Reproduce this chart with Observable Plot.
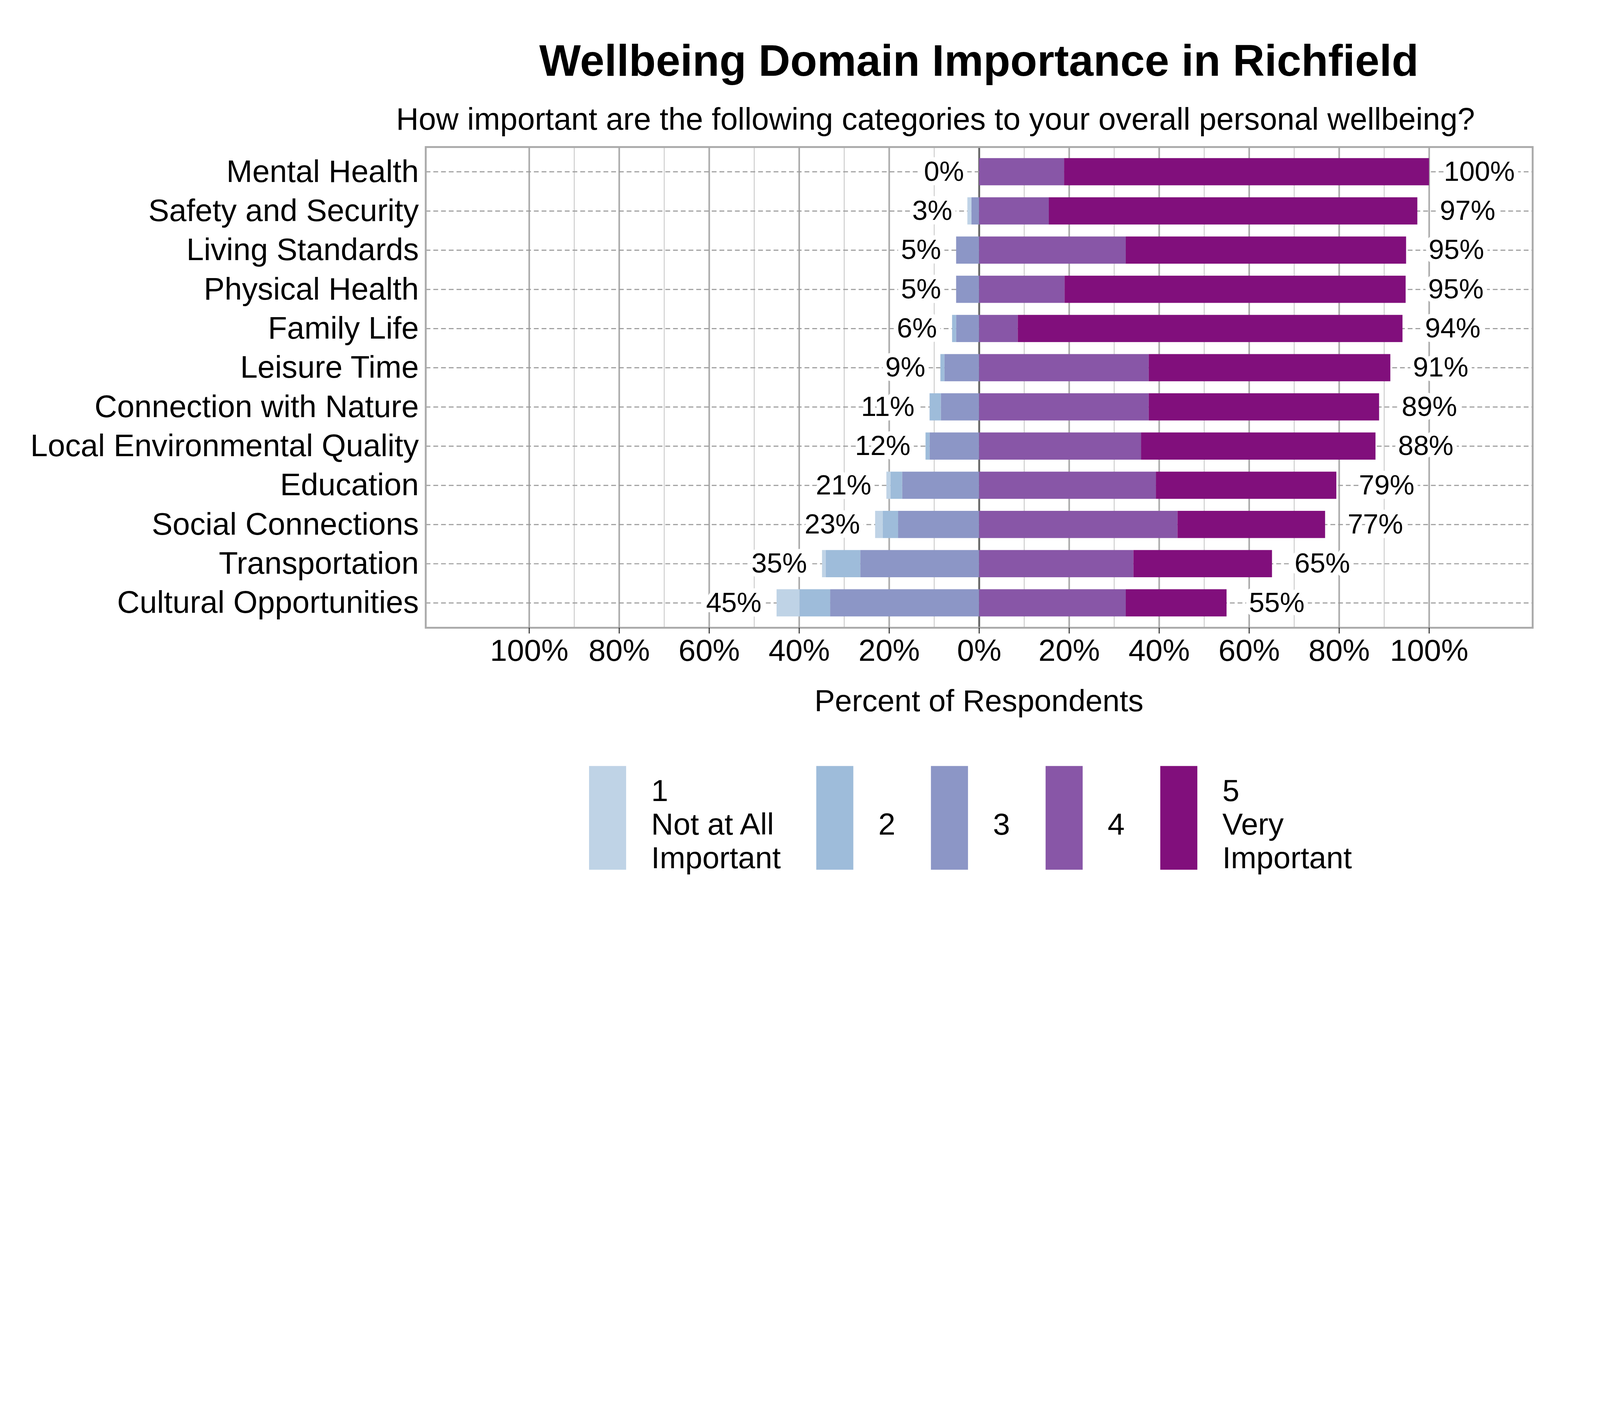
<!DOCTYPE html>
<html>
<head>
<meta charset="utf-8">
<script src="https://cdn.jsdelivr.net/npm/d3@7"></script>
<script src="https://cdn.jsdelivr.net/npm/@observablehq/plot@0.6"></script>
<style>
  html, body { margin: 0; padding: 0; background: white; overflow: hidden; }
  #page { position: absolute; left: 0; top: 0; width: 6000px; height: 3600px; background: white; font-family: 'Liberation Sans', Arial, sans-serif; color: black; overflow: hidden; transform-origin: 0 0; }
  .abs { position: absolute; white-space: nowrap; line-height: 1; }
  #title { left: 3671px; top: 145px; transform: translateX(-50%); font-size: 165px; font-weight: bold; }
  #subtitle { left: 3508px; top: 388px; transform: translateX(-50%); font-size: 117px; }
  #xtitle { left: 3671px; top: 2571px; transform: translateX(-50%); font-size: 115px; }
  #plotwrap { position: absolute; left: 0; top: 500px; }
  #legend { position: absolute; left: 2209px; top: 2873px; display: flex; align-items: center; }
  .item { display: flex; align-items: center; margin-right: 133px; }
  .item:last-child { margin-right: 0; }
  .sw { width: 139px; height: 389px; }
  .lt { margin-left: 94px; font-size: 115px; line-height: 126px; position: relative; top: 22px; white-space: nowrap; }
</style>
</head>
<body>
<div id="page">
  <div id="plotwrap"></div>
  <div id="title" class="abs">Wellbeing Domain Importance in Richfield</div>
  <div id="subtitle" class="abs">How important are the following categories to your overall personal wellbeing?</div>
  <div id="xtitle" class="abs">Percent of Respondents</div>
  <div id="legend"></div>
</div>
<script>
const categories = [
  "Mental Health", "Safety and Security", "Living Standards", "Physical Health",
  "Family Life", "Leisure Time", "Connection with Nature", "Local Environmental Quality",
  "Education", "Social Connections", "Transportation", "Cultural Opportunities"
];
// percent of respondents per rating level
const v1 = [0, 0.9, 0, 0, 0, 0, 0, 0, 0.9, 1.7, 0.8, 5.1];
const v2 = [0, 0, 0, 0, 0.9, 0.9, 2.5, 0.9, 2.6, 3.4, 7.7, 6.8];
const v3 = [0, 1.7, 5.1, 5.1, 5.1, 7.7, 8.5, 11.0, 17.1, 18.0, 26.4, 33.1];
const v4 = [18.9, 15.5, 32.6, 19.0, 8.6, 37.7, 37.7, 36.0, 39.3, 44.1, 34.3, 32.6];
const v5 = [81.1, 81.9, 62.3, 75.8, 85.5, 53.7, 51.2, 52.1, 40.1, 32.8, 30.8, 22.4];

const levels = ["1", "2", "3", "4", "5"];
const levelLabels = [["1", "Not at All", "Important"], ["2"], ["3"], ["4"], ["5", "Very", "Important"]];
const colors = ["#bfd3e6", "#9ebcda", "#8c96c6", "#8856a7", "#810f7c"];

const xTicks = [-100, -80, -60, -40, -20, 0, 20, 40, 60, 80, 100];
const gridMajor = [-100, -80, -60, -40, -20, 20, 40, 60, 80, 100];
const gridMinor = [-90, -70, -50, -30, -10, 10, 30, 50, 70, 90];

const series = {"1": v1, "2": v2, "3": v3, "4": v4, "5": v5};
const stackOrder = ["3", "2", "1", "4", "5"];
const rows = categories.flatMap((c, i) =>
  stackOrder.map(l => ({category: c, level: l, value: (+l <= 3 ? -1 : 1) * series[l][i]}))
).filter(d => d.value !== 0);

const leftTotals = categories.map((c, i) => ({category: c, total: v1[i] + v2[i] + v3[i]}));
const rightTotals = categories.map((c, i) => ({category: c, total: v4[i] + v5[i]}));

const chart = Plot.plot({
  width: 6000,
  height: 2060,
  marginTop: 51,
  marginBottom: 206,
  marginLeft: 1596,
  marginRight: 253,
  style: {fontFamily: "'Liberation Sans', Arial, sans-serif", fontSize: "117px", background: "transparent", maxWidth: "none", overflow: "visible"},
  x: {domain: [-123, 123]},
  y: {domain: categories, paddingInner: 0.307, paddingOuter: 0.253},
  color: {domain: levels, range: colors},
  marks: [
    Plot.ruleX(gridMinor, {stroke: "#c4c4c4", strokeWidth: 3}),
    Plot.ruleX(gridMajor, {stroke: "#ababab", strokeWidth: 6}),
    Plot.ruleX([0], {stroke: "#666666", strokeWidth: 7}),
    Plot.ruleY(categories, {y: d => d, stroke: "#9a9a9a", strokeWidth: 4, strokeDasharray: "18,11"}),
    Plot.barX(rows, {x: "value", y: "category", fill: "level", z: "level", order: stackOrder}),
    Plot.text(leftTotals, {
      x: d => -d.total, y: "category", text: d => Math.round(d.total) + "%",
      textAnchor: "end", dx: -57, fontSize: 104, fill: "black",
      stroke: "white", strokeWidth: 34, strokeLinejoin: "round"
    }),
    Plot.text(rightTotals, {
      x: "total", y: "category", text: d => Math.round(d.total) + "%",
      textAnchor: "middle", dx: 188, fontSize: 104, fill: "black",
      stroke: "white", strokeWidth: 34, strokeLinejoin: "round"
    }),
    Plot.frame({stroke: "#aaaaaa", strokeWidth: 7}),
    Plot.axisY({tickSize: 0, tickPadding: 26, fontSize: 117, label: null}),
    Plot.axisX({ticks: xTicks, tickSize: 22, tickPadding: 21, stroke: "#333333", strokeWidth: 4,
      tickFormat: d => Math.abs(d) + "%", fontSize: 115, label: null})
  ]
});
document.getElementById("plotwrap").appendChild(chart);

const legend = document.getElementById("legend");
levels.forEach((l, i) => {
  const item = document.createElement("div");
  item.className = "item";
  const sw = document.createElement("div");
  sw.className = "sw";
  sw.style.background = colors[i];
  const lt = document.createElement("div");
  lt.className = "lt";
  lt.innerHTML = levelLabels[i].join("<br>");
  item.appendChild(sw);
  item.appendChild(lt);
  legend.appendChild(item);
});

// The sandbox window can be narrower than the 6000x3600 design; scale the whole figure to fit it.
function fit() {
  const page = document.getElementById("page");
  const s = Math.min(window.innerWidth / 6000, window.innerHeight / 3600);
  page.style.transform = s < 1 ? `scale(${s})` : "none";
}
fit();
window.addEventListener("resize", fit);
</script>
</body>
</html>
